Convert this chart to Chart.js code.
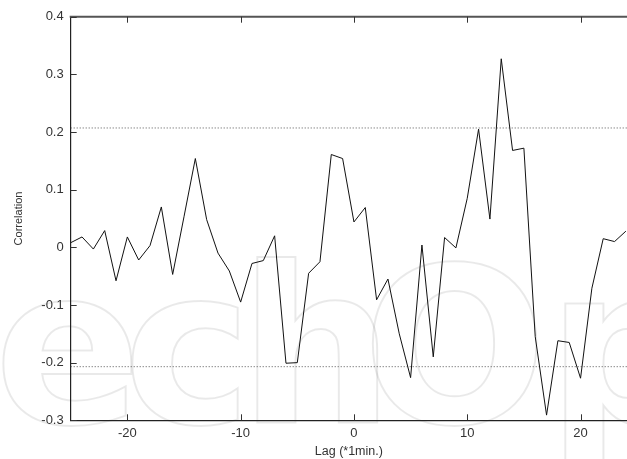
<!DOCTYPE html>
<html>
<head>
<meta charset="utf-8">
<script src="https://cdn.jsdelivr.net/npm/chart.js@4/dist/chart.umd.min.js"></script>
<style>
  html, body { margin: 0; padding: 0; background: #fff; }
  #wrap { width: 627px; height: 459px; }
</style>
</head>
<body>
<div id="wrap"><canvas id="corr"></canvas></div>
<script>
//Data Korelasi//
const lags = [-25, -24, -23, -22, -21, -20, -19, -18, -17, -16, -15, -14, -13, -12, -11, -10, -9, -8, -7, -6, -5, -4, -3, -2, -1,
  0, 1, 2, 3, 4, 5, 6, 7, 8, 9, 10, 11, 12, 13, 14, 15, 16, 17, 18, 19, 20, 21, 22, 23, 24];
const correlation = [0.008, 0.018, -0.003, 0.029, -0.058, 0.018, -0.022, 0.003, 0.070, -0.047, 0.053, 0.154, 0.048, -0.010, -0.041,
  -0.095, -0.028, -0.023, 0.020, -0.201, -0.200, -0.045, -0.025, 0.161, 0.154,
  0.044, 0.069, -0.091, -0.055, -0.150, -0.226, 0.004, -0.190, 0.017, -0.001, 0.085, 0.205, 0.049, 0.327, 0.168,
  0.172, -0.155, -0.291, -0.162, -0.165, -0.227, -0.071, 0.015, 0.010, 0.028];
const limitLevels = [0.207, -0.207];
const xTicks = [-20, -10, 0, 10, 20];
const yTicks = [-0.3, -0.2, -0.1, 0, 0.1, 0.2, 0.3, 0.4];
const xMin = -25, xMax = 24.1;
const yMin = -0.3, yMax = 0.4;
//Akhir Data Korelasi//

const fontFamily = "'Liberation Sans', Arial, Helvetica, sans-serif";

// watermark huruf per huruf (posisi kiri tinta)
const wmLetters = ["e", "c", "h", "O", "p"];
const wmLeft = [3, 132, 257, 372, 565];

// bingkai atas + tanda tick ke dalam + watermark
const framePlugin = {
  id: "frame",
  beforeDraw(chart) {
    const ctx = chart.ctx;
    ctx.save();
    ctx.font = "bold 218px 'DejaVu Sans', sans-serif";
    ctx.strokeStyle = "rgba(0,0,0,0.085)";
    ctx.lineWidth = 2;
    ctx.textBaseline = "alphabetic";
    ctx.textAlign = "left";
    wmLetters.forEach((ch, i) => {
      const m = ctx.measureText(ch);
      ctx.strokeText(ch, wmLeft[i] + m.actualBoundingBoxLeft, 423);
    });
    ctx.restore();
  },
  afterDraw(chart) {
    const ctx = chart.ctx;
    const a = chart.chartArea;
    const xs = chart.scales.x, ys = chart.scales.y;
    ctx.save();
    ctx.strokeStyle = "#555";
    ctx.lineWidth = 2;
    ctx.beginPath();
    ctx.moveTo(a.left - 1, a.top);
    ctx.lineTo(a.right, a.top);
    ctx.stroke();

    ctx.strokeStyle = "#333";
    ctx.lineWidth = 1;
    ctx.beginPath();
    xTicks.forEach((v) => {
      const px = Math.round(xs.getPixelForValue(v)) + 0.5;
      ctx.moveTo(px, a.top);
      ctx.lineTo(px, a.top + 6);
      ctx.moveTo(px, a.bottom);
      ctx.lineTo(px, a.bottom - 6);
    });
    yTicks.forEach((v) => {
      const py = Math.round(ys.getPixelForValue(v)) + 0.5;
      ctx.moveTo(a.left, py);
      ctx.lineTo(a.left + 6, py);
    });
    ctx.stroke();
    ctx.restore();
  },
};

const data = {
  datasets: [
    {
      label: "Correlation",
      data: lags.map((l, i) => ({ x: l, y: correlation[i] })),
      borderColor: "#111",
      borderWidth: 1,
      pointRadius: 0,
      tension: 0,
      fill: false,
    },
    ...limitLevels.map((lv) => ({
      label: "limit " + lv,
      data: [{ x: xMin, y: lv }, { x: xMax, y: lv }],
      borderColor: "#555",
      borderWidth: 1,
      borderDash: [1, 2],
      pointRadius: 0,
      fill: false,
    })),
  ],
};

const config = {
  type: "line",
  data: data,
  plugins: [framePlugin],
  options: {
    responsive: true,
    maintainAspectRatio: false,
    animation: false,
    layout: { padding: { top: 16.7, left: 0, right: 0, bottom: 0 } },
    plugins: {
      legend: { display: false },
      tooltip: { enabled: false },
    },
    scales: {
      x: {
        type: "linear",
        min: xMin,
        max: xMax,
        afterBuildTicks: (s) => { s.ticks = xTicks.map((v) => ({ value: v })); },
        afterFit: (s) => { s.height = 38.7; },
        grid: { display: false, drawTicks: false },
        border: { display: true, color: "#222", width: 1.3 },
        ticks: { padding: 5, color: "#333", font: { family: fontFamily, size: 13 } },
        title: {
          display: true,
          text: "Lag (*1min.)",
          color: "#333",
          padding: { top: 0, bottom: 0 },
          font: { family: fontFamily, size: 12.5 },
        },
      },
      y: {
        min: yMin,
        max: yMax,
        afterBuildTicks: (s) => { s.ticks = yTicks.map((v) => ({ value: v })); },
        afterFit: (s) => { s.width = 70.7; },
        grid: { display: false, drawTicks: false },
        border: { display: true, color: "#222", width: 1.2 },
        ticks: { padding: 7, color: "#333", font: { family: fontFamily, size: 13 } },
        title: {
          display: true,
          text: "Correlation",
          color: "#333",
          padding: { top: 12, bottom: 0 },
          font: { family: fontFamily, size: 11 },
        },
      },
    },
  },
};

const corrChart = new Chart(document.getElementById("corr").getContext("2d"), config);
</script>
</body>
</html>
